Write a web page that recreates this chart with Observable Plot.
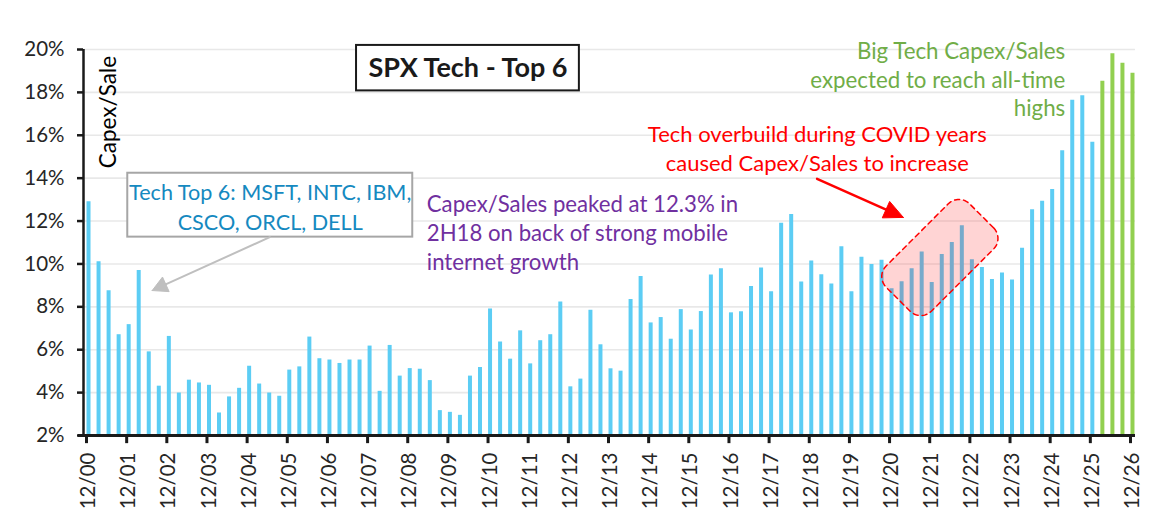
<!DOCTYPE html>
<html><head><meta charset="utf-8">
<script src="https://cdn.jsdelivr.net/npm/d3@7"></script>
<script src="https://cdn.jsdelivr.net/npm/@observablehq/plot@0.6"></script>
<style>body{margin:0;background:#fff}</style>
</head><body><div id="chart"></div>
<script>
// Quarterly Capex/Sales (%), 12/00 .. 12/25 actual, then estimates
const actualCapexSales = [
  12.9, 10.1, 8.75, 6.7, 7.17, 9.7, 5.9, 4.3, 6.62, 3.98,
  4.58, 4.45, 4.34, 3.05, 3.8, 4.2, 5.23, 4.4, 3.98, 3.83,
  5.05, 5.2, 6.59, 5.58, 5.52, 5.36, 5.52, 5.52, 6.17, 4.06,
  6.2, 4.77, 5.12, 5.09, 4.56, 3.16, 3.08, 2.94, 4.77, 5.17,
  7.9, 6.36, 5.56, 6.88, 5.34, 6.42, 6.7, 8.23, 4.27, 4.63,
  7.84, 6.23, 5.11, 5.0, 8.34, 9.42, 7.25, 7.5, 6.49, 7.87,
  6.92, 7.78, 9.49, 9.78, 7.72, 7.77, 8.95, 9.81, 8.7, 11.9,
  12.3, 9.16, 10.14, 9.5, 9.06, 10.8, 8.7, 10.31, 9.97, 10.17,
  8.84, 9.17, 9.78, 10.56, 9.13, 10.44, 11.0, 11.78, 10.2, 9.83,
  9.28, 9.58, 9.25, 10.73, 12.53, 12.92, 13.47, 15.28, 17.63, 17.84,
  15.67
];
const estimateCapexSales = [18.52, 19.8, 19.36, 18.89];
const xTickLabels = ["12/00","12/01","12/02","12/03","12/04","12/05","12/06","12/07","12/08",
  "12/09","12/10","12/11","12/12","12/13","12/14","12/15","12/16","12/17","12/18","12/19",
  "12/20","12/21","12/22","12/23","12/24","12/25","12/26"];
const yTicks = [2, 4, 6, 8, 10, 12, 14, 16, 18, 20];
const quartersPerLabel = 4;

const bars = actualCapexSales.map((v, i) => ({i, v, kind: "actual"}))
  .concat(estimateCapexSales.map((v, j) => ({i: actualCapexSales.length + j, v, kind: "estimate"})));
const xTicks = xTickLabels.map((label, k) => ({i: k * quartersPerLabel, label}));

// layout
const W = 1164, H = 532;
const mL = 83, mR = 27, mT = 49, mB = 97;
const xDomain = [-0.5, bars.length - 0.5];
const yDomain = [2, 20];
const px = d3.scaleLinear(xDomain, [mL, W - mR]);
const py = d3.scaleLinear(yDomain, [H - mB, mT]);
const toData = ([x, y]) => ({x: px.invert(x), y: py.invert(y)});

// annotation shapes (positions in data units)
const titleBox = {x1: 26.7, x2: 48.9, y1: 18.07, y2: 20.19, cx: 37.8, cy: 19.13};
const membersBox = {x1: 3.91, x2: 32.3, y1: 11.25, y2: 14.23, cx: 18.1, cy: 12.74};
const arrows = [
  {from: [18.06, 11.25], to: [6.34, 8.76], color: "#bfbfbf", width: 2, len: 15, half: 8},
  {from: [72.58, 13.97], to: [81.17, 12.17], color: "#ff0000", width: 2.5, len: 19, half: 9}
];
const highlight = {cx: 84.81, cy: 10.30, w: 118, h: 64, r: 15, angle: -45};

function roundedRect(h) {
  const c = [px(h.cx), py(h.cy)], a = h.angle * Math.PI / 180;
  const hw = h.w / 2 - h.r, hh = h.h / 2 - h.r, pts = [];
  const corners = [[hw, hh, 0], [-hw, hh, 90], [-hw, -hh, 180], [hw, -hh, 270]];
  for (const [cx, cy, start] of corners) {
    for (let t = 0; t <= 90; t += 10) {
      const th = (start + t) * Math.PI / 180;
      const lx = cx + h.r * Math.cos(th), ly = cy + h.r * Math.sin(th);
      pts.push([c[0] + lx * Math.cos(a) - ly * Math.sin(a), c[1] + lx * Math.sin(a) + ly * Math.cos(a)]);
    }
  }
  pts.push(pts[0]);
  return pts.map(toData);
}
function arrowParts(ar) {
  const s = [px(ar.from[0]), py(ar.from[1])], e = [px(ar.to[0]), py(ar.to[1])];
  const dx = e[0] - s[0], dy = e[1] - s[1], L = Math.hypot(dx, dy);
  const ux = dx / L, uy = dy / L;
  const b = [e[0] - ux * ar.len, e[1] - uy * ar.len];
  const shaft = [s, [b[0] + ux * 2, b[1] + uy * 2]].map(toData);
  const head = [e, [b[0] - uy * ar.half, b[1] + ux * ar.half], [b[0] + uy * ar.half, b[1] - ux * ar.half], e].map(toData);
  return {shaft, head};
}

const font = "Lato, sans-serif";
const marks = [
  // gridlines
  Plot.ruleY(yTicks.filter(d => d > yDomain[0]), {y: d => d, x1: xDomain[0], x2: 104.3, stroke: "#e8e8e8", strokeWidth: 1.6}),
  // bars
  Plot.ruleX(bars, {x: "i", y1: yDomain[0], y2: "v", stroke: d => d.kind === "actual" ? "#5ccdf4" : "#92d050", strokeWidth: 4}),
  // axes lines
  Plot.ruleX([xDomain[0]], {y1: yDomain[0], y2: yDomain[1], stroke: "#1a1a1a", strokeWidth: 2.5}),
  Plot.ruleY(yTicks.map(d => ({y: d})), {y: "y", x1: xDomain[0] - 0.6, x2: xDomain[0], stroke: "#1a1a1a", strokeWidth: 2.5}),
  Plot.ruleX(xTicks, {x: "i", y1: yDomain[0], y2: yDomain[0] - 0.38, dx: -2, stroke: "#1a1a1a", strokeWidth: 3}),
  Plot.ruleY([yDomain[0]], {x1: -1, x2: 104.3, stroke: "#1a1a1a", strokeWidth: 3}),
  // tick labels
  Plot.text(yTicks, {x: xDomain[0], y: d => d, text: d => d + "%", textAnchor: "end", dx: -19, fontSize: 20.5, fill: "#262626"}),
  Plot.text(xTicks, {x: "i", y: yDomain[0], text: "label", rotate: -90, textAnchor: "end", dy: 17, fontSize: 20.5, fill: "#262626"}),
  // y label
  Plot.text(["Capex/Sale"], {x: 2.0, y: 19.7, text: d => d, rotate: -90, textAnchor: "end", fontSize: 22.5, fill: "#000"}),
  // title box
  Plot.rect([titleBox], {x1: "x1", x2: "x2", y1: "y1", y2: "y2", fill: "#fff", stroke: "#1a1a1a", strokeWidth: 2}),
  Plot.text([titleBox], {x: "cx", y: "cy", text: () => "SPX Tech - Top 6", fontSize: 27, fontWeight: "bold", fill: "#1a1a1a"}),
  // members box
  Plot.rect([membersBox], {x1: "x1", x2: "x2", y1: "y1", y2: "y2", fill: "#fff", stroke: "#a6a6a6", strokeWidth: 2}),
  Plot.text([membersBox], {x: "cx", y: "cy", text: () => "Tech Top 6: MSFT, INTC, IBM,\nCSCO, ORCL, DELL", fontSize: 21.6, lineHeight: 1.38, fill: "#1589c0"}),
  // purple note
  Plot.text([{x: 33.7, y: 11.51}], {x: "x", y: "y", text: () => "Capex/Sales peaked at 12.3% in\n2H18 on back of strong mobile\ninternet growth", textAnchor: "start", fontSize: 22.2, lineHeight: 1.31, fill: "#7030a0"}),
  // red note
  Plot.text([{x: 72.6, y: 15.45}], {x: "x", y: "y", text: () => "Tech overbuild during COVID years\ncaused Capex/Sales to increase", fontSize: 22, lineHeight: 1.32, fill: "#ff0000"}),
  // green note
  Plot.text([{x: 97.3, y: 18.65}], {x: "x", y: "y", text: () => "Big Tech Capex/Sales\nexpected to reach all-time\nhighs", textAnchor: "end", fontSize: 22.3, lineHeight: 1.27, fill: "#70ad47"}),
  // highlight
  Plot.line(roundedRect(highlight), {x: "x", y: "y", fill: "rgba(255,0,0,0.17)", stroke: "#ff0000", strokeWidth: 1.5, strokeDasharray: "5,4", curve: "linear"})
];
for (const ar of arrows) {
  const {shaft, head} = arrowParts(ar);
  marks.push(Plot.line(shaft, {x: "x", y: "y", stroke: ar.color, strokeWidth: ar.width}));
  marks.push(Plot.line(head, {x: "x", y: "y", fill: ar.color, stroke: ar.color, strokeWidth: 1}));
}

const chart = Plot.plot({
  width: W, height: H,
  marginLeft: mL, marginRight: mR, marginTop: mT, marginBottom: mB,
  x: {type: "linear", domain: xDomain, axis: null},
  y: {type: "linear", domain: yDomain, axis: null},
  style: {fontFamily: font, background: "#fff", overflow: "visible"},
  marks
});
document.getElementById("chart").appendChild(chart);
</script>
</body></html>
